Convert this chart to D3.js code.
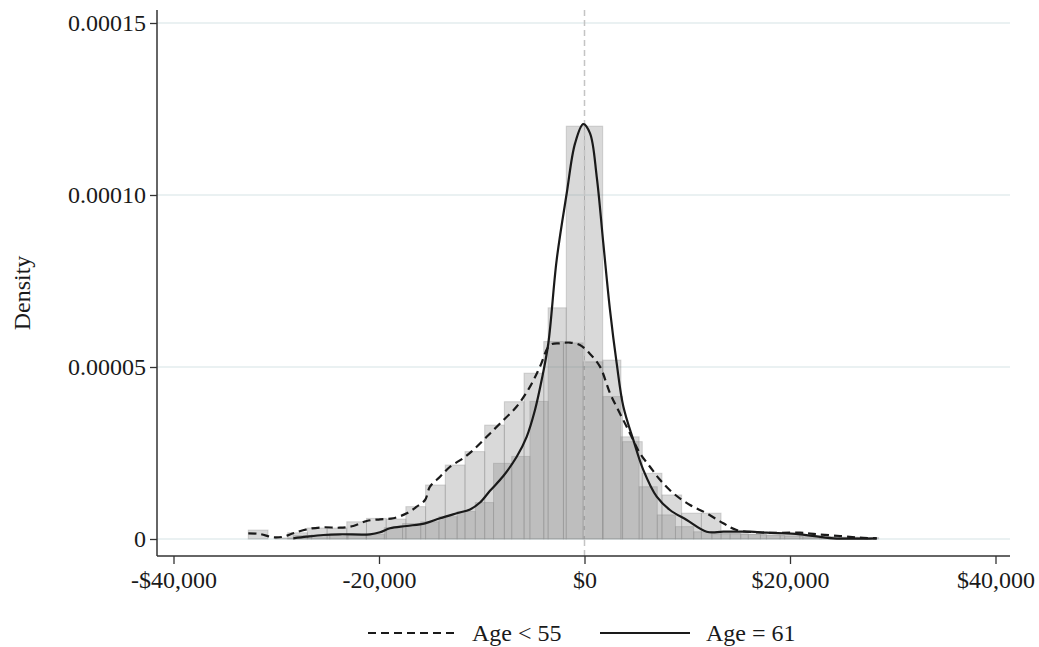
<!DOCTYPE html>
<html>
<head>
<meta charset="utf-8">
<script src="https://cdn.jsdelivr.net/npm/d3@7"></script>
<style>
  body { margin: 0; background: #fff; }
  text { font-family: "Liberation Serif", "Times New Roman", serif; fill: #1a1a1a; }
</style>
</head>
<body>
<svg id="chart" width="1039" height="647"></svg>
<script>
// histogram of Age < 55 (bin start, bin width in $, densities)
const youngBinStart = -32720;
const youngBinWidth = 1917;
const youngHist = [2.6e-6, 0, 1.8e-6, 3.2e-6, 3.2e-6, 5.0e-6, 6.0e-6, 5.8e-6, 9.4e-6, 1.57e-5,
  2.15e-5, 2.54e-5, 3.31e-5, 3.99e-5, 4.82e-5, 5.74e-5, 5.7e-5, 5.15e-5, 4.14e-5, 2.83e-5,
  1.91e-5, 1.28e-5, 7.5e-6, 7.5e-6, 1.6e-6, 1.4e-6, 1.2e-6, 1.0e-6, 0.9e-6, 0.7e-6, 0.5e-6, 0.4e-6];

// histogram of Age = 61
const oldBinStart = -30107;
const oldBinWidth = 1771;
const oldHist = [0.3e-6, 1.0e-6, 1.2e-6, 1.4e-6, 1.4e-6, 1.4e-6, 3.3e-6, 4.5e-6, 5.0e-6, 6.5e-6,
  8.0e-6, 1.06e-5, 2.2e-5, 2.4e-5, 4.0e-5, 6.72e-5, 1.20e-4, 1.20e-4, 5.2e-5, 2.97e-5,
  1.52e-5, 7.0e-6, 3.6e-6, 2.1e-6, 1.5e-6, 1.5e-6, 1.3e-6, 1.0e-6, 0.8e-6, 0.6e-6, 0.5e-6, 0.5e-6, 0.3e-6];

// kernel density, Age < 55
const youngX = [-32720, -31580, -30290, -29310, -28340, -27040, -25420, -23800, -22500, -21200,
  -19900, -18610, -17300, -16330, -15520, -15040, -14060, -13090, -11800, -10820,
  -9520, -8220, -6600, -5300, -4330, -3360, -2380, -1410, -440, 540,
  1510, 2480, 3450, 4430, 5400, 6370, 7350, 8640, 10270, 11890,
  13510, 14810, 17730, 20970, 22600, 24870, 26810, 28440];
const youngY = [1.66e-6, 1.45e-6, 0.49e-6, 0.67e-6, 1.66e-6, 2.82e-6, 3.40e-6, 3.28e-6, 3.78e-6, 5.23e-6,
  5.73e-6, 6.02e-6, 7.47e-6, 9.39e-6, 1.134e-5, 1.52e-5, 1.81e-5, 2.10e-5, 2.35e-5, 2.59e-5,
  2.97e-5, 3.36e-5, 3.85e-5, 4.43e-5, 5.01e-5, 5.64e-5, 5.69e-5, 5.71e-5, 5.64e-5, 5.38e-5,
  5.01e-5, 4.24e-5, 3.65e-5, 3.07e-5, 2.49e-5, 2.10e-5, 1.72e-5, 1.33e-5, 9.88e-6, 7.47e-6,
  4.56e-6, 2.62e-6, 1.83e-6, 1.83e-6, 1.37e-6, 0.87e-6, 0.38e-6, 0.2e-6];

// kernel density, Age = 61
const oldX = [-28340, -27040, -25420, -23800, -20880, -19900, -18930, -17300, -15520, -14060,
  -12440, -11140, -10170, -9200, -7900, -6600, -5630, -4820, -4170, -3520,
  -2710, -1730, -920, -120, 540, 1190, 1830, 2480, 3130, 3780,
  4750, 5720, 7030, 8320, 9950, 11890, 13510, 16110, 17730, 20970,
  24210, 28440];
const oldY = [0.2e-6, 0.67e-6, 1.16e-6, 1.37e-6, 1.37e-6, 1.95e-6, 3.11e-6, 3.78e-6, 4.56e-6, 6.02e-6,
  7.47e-6, 8.6e-6, 1.06e-5, 1.40e-5, 1.83e-5, 2.39e-5, 2.97e-5, 3.75e-5, 4.62e-5, 5.69e-5,
  8.11e-5, 1.005e-4, 1.150e-4, 1.206e-4, 1.179e-4, 1.053e-4, 8.60e-5, 6.66e-5, 5.11e-5, 3.85e-5,
  2.88e-5, 2.01e-5, 1.23e-5, 8.43e-6, 5.52e-6, 2.12e-6, 2.12e-6, 2.12e-6, 1.83e-6, 1.37e-6,
  0.2e-6, 0.2e-6];

const xTicks = [-40000, -20000, 0, 20000, 40000];
const xTickLabels = ["-$40,000", "-20,000", "$0", "$20,000", "$40,000"];
const yTicks = [0, 0.00005, 0.0001, 0.00015];
const yTickLabels = ["0", "0.00005", "0.00010", "0.00015"];
const legendLabels = ["Age < 55", "Age = 61"];

const svg = d3.select("#chart");
const axisX0 = 157, axisY0 = 556, plotTop = 10, plotRight = 1010;
const x = d3.scaleLinear([-40000, 40000], [173.5, 995.5]);
const y = d3.scaleLinear([0, 0.00015], [539, 23]);
const fontSize = 24;

// gridlines
svg.append("g").selectAll("line").data(yTicks).join("line")
  .attr("x1", axisX0).attr("x2", plotRight)
  .attr("y1", d => y(d)).attr("y2", d => y(d))
  .attr("stroke", "#e3ecee").attr("stroke-width", 1.5);

// histograms
function drawHist(vals, start, width) {
  svg.append("g").selectAll("rect").data(vals).join("rect")
    .attr("x", (d, i) => x(start + i * width))
    .attr("width", (d, i) => x(start + (i + 1) * width) - x(start + i * width))
    .attr("y", d => y(d))
    .attr("height", d => y(0) - y(d))
    .attr("fill", "rgb(124,124,124)").attr("fill-opacity", 0.29)
    .attr("stroke", "rgb(140,140,140)").attr("stroke-opacity", 0.35).attr("stroke-width", 1);
}
drawHist(youngHist, youngBinStart, youngBinWidth);
drawHist(oldHist, oldBinStart, oldBinWidth);

// vertical reference line at 0
svg.append("line")
  .attr("x1", x(0)).attr("x2", x(0)).attr("y1", plotTop).attr("y2", axisY0)
  .attr("stroke", "#c4c4c4").attr("stroke-width", 1.5).attr("stroke-dasharray", "6,4");

// density curves
const line = d3.line().x(d => x(d[0])).y(d => y(d[1])).curve(d3.curveCatmullRom);
svg.append("path").datum(youngX.map((v, i) => [v, youngY[i]]))
  .attr("d", line).attr("fill", "none").attr("stroke", "#1a1a1a")
  .attr("stroke-width", 2.2).attr("stroke-dasharray", "8,5");
svg.append("path").datum(oldX.map((v, i) => [v, oldY[i]]))
  .attr("d", line).attr("fill", "none").attr("stroke", "#1a1a1a")
  .attr("stroke-width", 2.2);

// axes
const yAxis = svg.append("g").attr("transform", `translate(${axisX0},0)`)
  .call(d3.axisLeft(y).tickValues(yTicks).tickSize(7).tickPadding(4)
    .tickFormat((d, i) => yTickLabels[i]));
const xAxis = svg.append("g").attr("transform", `translate(0,${axisY0})`)
  .call(d3.axisBottom(x).tickValues(xTicks).tickSize(8).tickPadding(7)
    .tickFormat((d, i) => xTickLabels[i]));
[yAxis, xAxis].forEach(g => {
  g.select(".domain").remove();
  g.selectAll(".tick line").attr("stroke", "#333").attr("stroke-width", 1.3);
  g.selectAll(".tick text").attr("font-size", fontSize)
    .attr("font-family", "Liberation Serif").attr("fill", "#1a1a1a");
});
svg.append("line").attr("x1", axisX0).attr("x2", axisX0).attr("y1", plotTop).attr("y2", axisY0)
  .attr("stroke", "#333").attr("stroke-width", 1.5);
svg.append("line").attr("x1", axisX0).attr("x2", plotRight).attr("y1", axisY0).attr("y2", axisY0)
  .attr("stroke", "#333").attr("stroke-width", 1.5);

svg.append("text")
  .attr("transform", `translate(30,${(plotTop + axisY0) / 2 + 10}) rotate(-90)`)
  .attr("text-anchor", "middle").attr("font-size", fontSize)
  .text("Density");

// legend
const legend = svg.append("g").attr("transform", "translate(0,633)");
legend.append("line").attr("x1", 368).attr("x2", 455).attr("y1", 0).attr("y2", 0)
  .attr("stroke", "#1a1a1a").attr("stroke-width", 2).attr("stroke-dasharray", "8,5");
legend.append("text").attr("x", 472).attr("y", 8).attr("font-size", fontSize).text(legendLabels[0]);
legend.append("line").attr("x1", 600).attr("x2", 690).attr("y1", 0).attr("y2", 0)
  .attr("stroke", "#1a1a1a").attr("stroke-width", 2);
legend.append("text").attr("x", 706).attr("y", 8).attr("font-size", fontSize).text(legendLabels[1]);
</script>
</body>
</html>
